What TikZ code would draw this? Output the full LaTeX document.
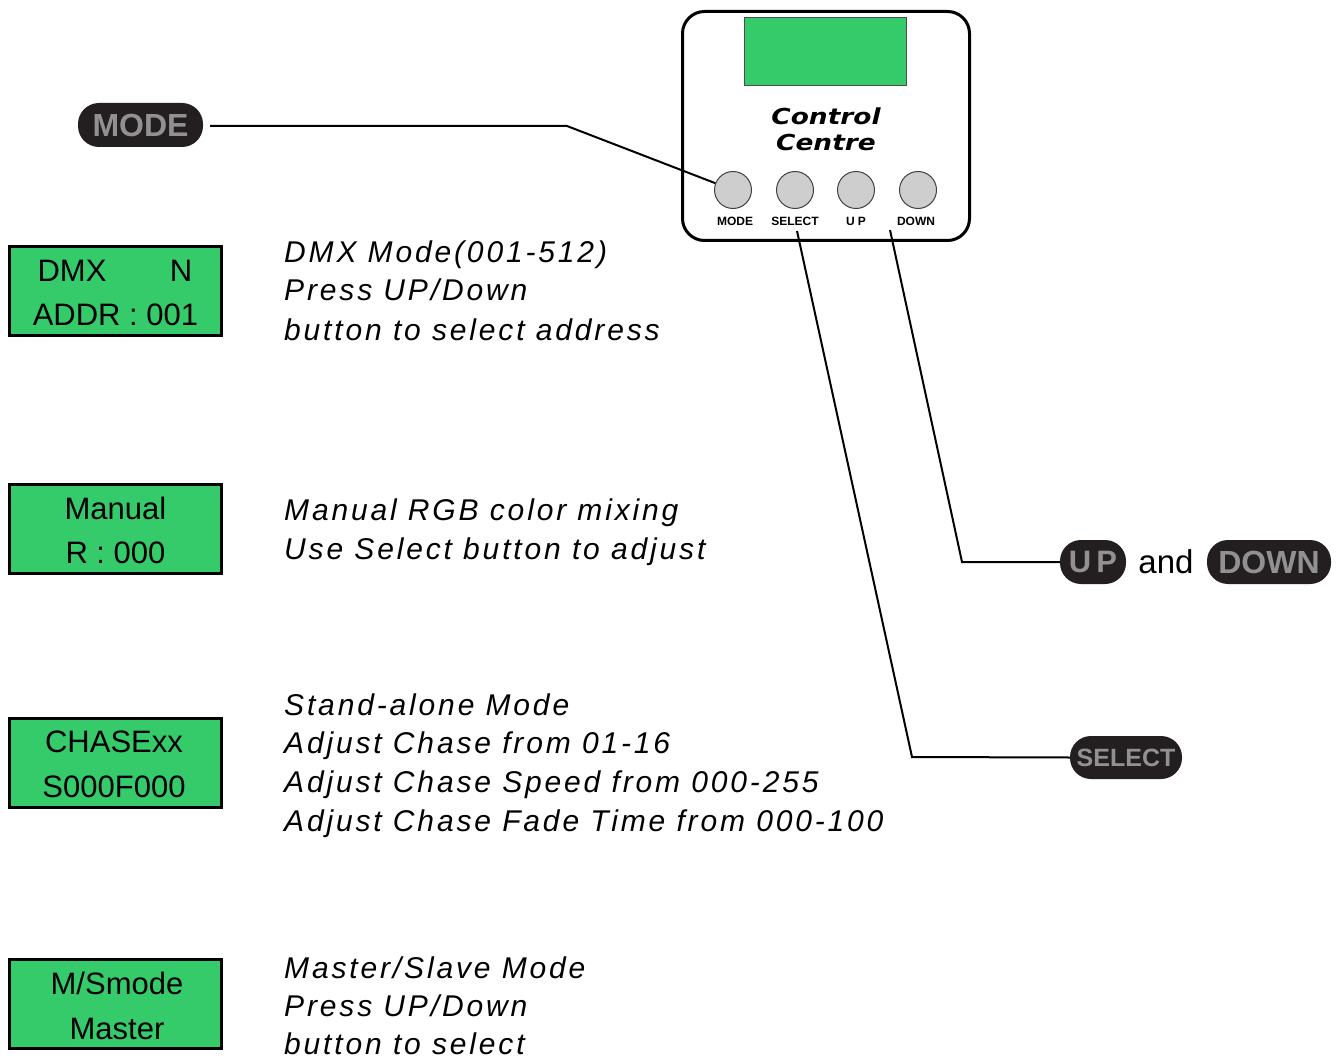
\documentclass[tikz,border=0pt]{standalone}
\usepackage{fontspec}
\setmainfont{Liberation Sans}
\newfontfamily\descfont[LetterSpace=9.5]{Liberation Sans}
\newfontfamily\ccfont{DejaVu Sans}
\definecolor{lcdgreen}{RGB}{54,203,106}
\definecolor{pilldark}{RGB}{35,31,32}
\definecolor{pilltext}{RGB}{145,145,145}
\definecolor{btngray}{RGB}{206,206,206}
\begin{document}
\begin{tikzpicture}[x=1pt,y=-1pt,
  lcd/.style={draw=black,line width=3.5pt,fill=lcdgreen,minimum width=212pt,minimum height=89pt,inner sep=0},
  lcdtxt/.style={font=\fontsize{31}{31}\selectfont,anchor=base,inner sep=0},
  desc/.style={font=\descfont\itshape\fontsize{30}{30}\selectfont,anchor=base west,inner sep=0},
  pill/.style={fill=pilldark,text=pilltext,rounded corners=21pt,minimum height=44pt,inner sep=0,font=\bfseries\fontsize{32}{32}\selectfont},
  btn/.style={circle,draw=black!75,line width=1pt,fill=btngray,minimum size=37pt,inner sep=0},
  btnlbl/.style={font=\bfseries\fontsize{12}{12}\selectfont,anchor=base,inner sep=0},
  conn/.style={draw=black,line width=2pt},
  cctxt/.style={font=\ccfont\bfseries\itshape\fontsize{22}{22}\selectfont,anchor=base,inner sep=0,xscale=1.2}
]
\useasboundingbox (0,0) rectangle (1341,1059);

% control panel
\draw[line width=3pt,rounded corners=22pt] (682.5,11.5) rectangle (969.5,240.5);
\node (screen) [draw=black!70,line width=0.8pt,fill=lcdgreen,minimum width=162pt,minimum height=68pt,inner sep=0] at (825.5,51.5) {};
\node (cc1) [cctxt] at (826,125) {Control};
\node (cc2) [cctxt] at (826,151) {Centre};
\node (bmode) [btn] at (733,190) {};
\node (bsel)  [btn] at (795,190) {};
\node (bup)   [btn] at (856,190) {};
\node (bdown) [btn] at (918,190) {};
\node (lmode) [btnlbl] at (735,226) {MODE};
\node (lsel)  [btnlbl] at (795,226) {SELECT};
\node (lup)   [btnlbl] at (856,226) {U\hspace{3pt}P};
\node (ldown) [btnlbl] at (916,226) {DOWN};

% pills
\node (pmode) [pill,minimum width=125pt] at (140.5,125) {MODE};
\node (pup)   [pill,minimum width=66pt,font=\bfseries\fontsize{31}{31}\selectfont] at (1093,562) {U\hspace{5pt}P};
\node (and)   [font=\fontsize{33}{33}\selectfont,inner sep=0] at (1166,562) {and};
\node (pdown) [pill,minimum width=124pt] at (1269,562) {DOWN};
\node (psel)  [pill,minimum width=112pt,minimum height=43pt,font=\bfseries\fontsize{25}{25}\selectfont] at (1126,757.5) {SELECT};

% connectors
\coordinate (mstart) at (210,126);
\coordinate (mknee) at (567,126);
\draw[conn] (mstart) -- (mknee) -- (bmode);
\coordinate (sstart) at (797,231);
\coordinate (sknee) at (912,757);
\draw[conn] (sstart) -- (sknee) -- (psel.west);
\coordinate (ustart) at (890,230);
\coordinate (uknee) at (962,562);
\draw[conn] (ustart) -- (uknee) -- (pup.west);

% lcd boxes
\node (box1) [lcd] at (115.5,291) {};
\node (t1a) [lcdtxt] at (72,281.5) {DMX};
\node (t1b) [lcdtxt] at (181,281.5) {N};
\node (t1c) [lcdtxt] at (115.5,325.5) {ADDR : 001};

\node (box2) [lcd] at (115.5,529) {};
\node (t2a) [lcdtxt] at (115.5,519.5) {Manual};
\node (t2b) [lcdtxt] at (115.5,563.5) {R : 000};

\node (box3) [lcd] at (115.5,763) {};
\node (t3a) [lcdtxt] at (114,752.5) {CHASExx};
\node (t3b) [lcdtxt] at (114,797.5) {S000F000};

\node (box4) [lcd] at (115.5,1004) {};
\node (t4a) [lcdtxt] at (117,994.5) {M/Smode};
\node (t4b) [lcdtxt] at (117,1039) {Master};

% descriptions
\node (d1a) [desc] at (284,263) {DMX Mode(001-512)};
\node (d1b) [desc] at (284,301) {Press UP/Down};
\node (d1c) [desc] at (284,340) {button to select address};

\node (d2a) [desc] at (284,520) {Manual RGB color mixing};
\node (d2b) [desc] at (284,559) {Use Select button to adjust};

\node (d3a) [desc] at (284,715) {Stand-alone Mode};
\node (d3b) [desc] at (284,753) {Adjust Chase from 01-16};
\node (d3c) [desc] at (284,792) {Adjust Chase Speed from 000-255};
\node (d3d) [desc] at (284,831) {Adjust Chase Fade Time from 000-100};

\node (d4a) [desc] at (284,978) {Master/Slave Mode};
\node (d4b) [desc] at (284,1016) {Press UP/Down};
\node (d4c) [desc] at (284,1054) {button to select};
\end{tikzpicture}
\end{document}
